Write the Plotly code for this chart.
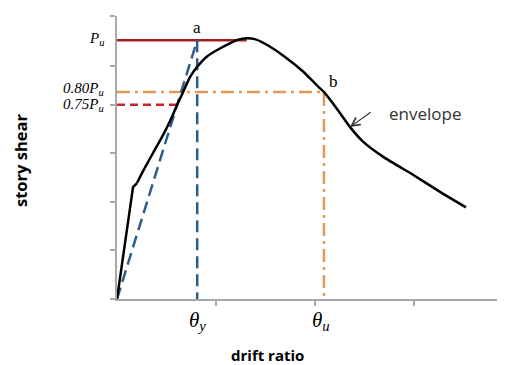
import numpy as np
import plotly.graph_objects as go

# ---- data (drift ratio in tick units, story shear normalised by Pu) ----
drift = [0.0, 0.162, 0.202, 0.263, 0.364, 0.465, 0.545, 0.606, 0.667, 0.737, 0.808,
         0.906, 1.007, 1.124, 1.225, 1.310, 1.400, 1.500, 1.680, 1.882, 2.017, 2.091,
         2.219, 2.354, 2.488, 2.690, 2.993, 3.263, 3.525]
shear = [0.0, 0.432, 0.448, 0.494, 0.564, 0.633, 0.695, 0.749, 0.799, 0.857, 0.896,
         0.936, 0.961, 0.985, 1.002, 1.007, 1.003, 0.985, 0.940, 0.878, 0.826, 0.799,
         0.736, 0.664, 0.607, 0.549, 0.479, 0.414, 0.354]
kink = 2  # index where the initial straight branch ends
Pu = 1.0
theta_y = 0.81
theta_u = 2.09
x_ticks = [1, 2, 3]
y_ticks = [0, 0.189, 0.375, 0.564, 0.749, 0.900, 1.0927]

x_max = 3.919
y_max = 1.0927

peak_x = drift[int(np.argmax(shear))]
x075 = float(np.interp(0.75 * Pu, shear[:12], drift[:12]))

fig = go.Figure()

serif = "Liberation Serif"
blue = "#2f5d8a"

# Pu solid red line
fig.add_trace(go.Scatter(x=[0, peak_x], y=[Pu, Pu], mode="lines",
                         line=dict(color="#a51d1d", width=2.5), hoverinfo="skip"))
# 0.75 Pu dashed red line
fig.add_trace(go.Scatter(x=[0, x075], y=[0.75 * Pu, 0.75 * Pu], mode="lines",
                         line=dict(color="#c3262b", width=2.5, dash="8px,5px"), hoverinfo="skip"))
# 0.80 Pu dash-dot orange
fig.add_trace(go.Scatter(x=[0, theta_u, theta_u], y=[0.8 * Pu, 0.8 * Pu, 0], mode="lines",
                         line=dict(color="#e2995a", width=2.5, dash="13px,5px,3px,5px"),
                         hoverinfo="skip"))
# secant (blue dashed) and vertical at theta_y
fig.add_trace(go.Scatter(x=[0, theta_y], y=[0, Pu], mode="lines",
                         line=dict(color=blue, width=2.5, dash="12px,6px"), hoverinfo="skip"))
fig.add_trace(go.Scatter(x=[theta_y, theta_y], y=[Pu, 0], mode="lines",
                         line=dict(color=blue, width=2.5, dash="12px,6px"), hoverinfo="skip"))
# envelope curve: straight initial branch, then smooth
fig.add_trace(go.Scatter(x=drift[:kink + 1], y=shear[:kink + 1], mode="lines",
                         line=dict(color="black", width=2.5), hoverinfo="skip"))
fig.add_trace(go.Scatter(x=drift[kink:], y=shear[kink:], mode="lines",
                         line=dict(color="black", width=2.5, shape="spline", smoothing=0.6),
                         hoverinfo="skip"))

ann = []
lab_font = dict(family=serif, size=15, color="black")
for val, txt, ys in [(Pu, "<i>P<sub>u</sub></i>", 1), (0.8 * Pu, "<i>0.80P<sub>u</sub></i>", 3),
                     (0.75 * Pu, "<i>0.75P<sub>u</sub></i>", 0)]:
    ann.append(dict(x=0, y=val, xref="paper", yref="y", text=txt, showarrow=False,
                    xanchor="right", yanchor="middle", xshift=-11, yshift=ys, font=lab_font))
ann.append(dict(x=theta_y, y=Pu, text="a", showarrow=False, yshift=13,
                font=dict(family=serif, size=17, color="black")))
ann.append(dict(x=theta_u, y=0.8 * Pu, text="b", showarrow=False, xshift=10, yshift=10,
                font=dict(family=serif, size=17, color="black")))
ann.append(dict(x=theta_y, y=0, text="<i>θ<sub>y</sub></i>", showarrow=False, yshift=-22,
                font=dict(family=serif, size=21, color="black")))
ann.append(dict(x=theta_u - 0.03, y=0, text="<i>θ<sub>u</sub></i>", showarrow=False, yshift=-22,
                font=dict(family=serif, size=21, color="black")))
ann.append(dict(x=3.106, y=0.718, text="envelope", showarrow=False,
                font=dict(family="Open Sans", size=17, color="#333333")))
ann.append(dict(x=2.354, y=0.664, text="", showarrow=True, ax=22, ay=-16,
                arrowhead=5, arrowsize=1.4, arrowwidth=1.2, arrowcolor="#333333"))
ann.append(dict(x=0.387, y=-0.198, xref="paper", yref="paper", text="<b>drift ratio</b>",
                showarrow=False, xanchor="center", yanchor="middle",
                font=dict(family="Open Sans", size=15, color="black")))
ann.append(dict(x=-0.25, y=0.491, xref="paper", yref="paper", text="<b>story shear</b>",
                showarrow=False, textangle=-90, xanchor="center", yanchor="middle",
                font=dict(family="Open Sans", size=16.5, color="black")))

# page body has an 8px margin; figure sized so the plot area lands where the reference has it
fig.update_layout(
    width=497, height=357,
    margin=dict(l=109, r=0, t=8, b=66),
    plot_bgcolor="white", paper_bgcolor="white",
    showlegend=False, annotations=ann,
)
axis_common = dict(showline=True, linecolor="#a8a8a8", linewidth=1.5, ticks="outside",
                   ticklen=5, tickcolor="#a8a8a8", tickwidth=1.5, showticklabels=False,
                   showgrid=False, zeroline=False, fixedrange=True)
fig.update_xaxes(range=[0, x_max], tickvals=x_ticks, **axis_common)
fig.update_yaxes(range=[0, y_max + 0.0005], tickvals=y_ticks, **axis_common)

fig.write_html("out.html")
